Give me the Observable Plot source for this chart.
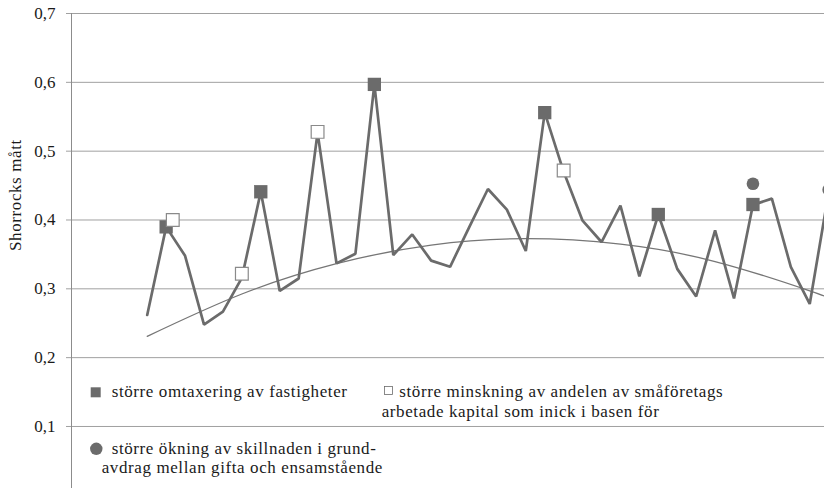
<!DOCTYPE html>
<html><head><meta charset="utf-8">
<script src="https://cdn.jsdelivr.net/npm/d3@7"></script>
<script src="https://cdn.jsdelivr.net/npm/@observablehq/plot@0.6"></script>
<style>
html,body{margin:0;padding:0;background:#fff;overflow:hidden}
#chart{position:relative;width:824px;height:488px}
#chart svg text{font-family:'Liberation Serif','Times New Roman',serif;font-size:17px;fill:#1a1a1a}
#chart svg .ylab text{letter-spacing:0.6px}
</style></head><body><div id="chart"></div>
<script>
// ---- data ----
const periodIndex = [0,1,2,3,4,5,6,7,8,9,10,11,12,13,14,15,16,17,18,19,20,21,22,23,24,25,26,27,28,29,30,31,32,33,34,35,36];
const shorrocks = [0.262,0.390,0.348,0.248,0.267,0.316,0.441,0.297,0.315,0.527,0.337,0.351,0.597,0.349,0.379,0.341,0.332,0.389,0.445,0.415,0.355,0.556,0.470,0.399,0.368,0.421,0.318,0.408,0.329,0.289,0.385,0.286,0.422,0.431,0.332,0.278,0.440];

const omtaxIndex = [1,6,12,21,27,32];
const omtaxValue = [0.390,0.441,0.597,0.556,0.408,0.4225];

const minskIndex = [1.35,5,9,22];
const minskValue = [0.400,0.322,0.528,0.472];

const grundIndex = [32,36];
const grundValue = [0.4526,0.444];

const trendIndex = [0,5,10,15,20,25,30,35,36];
const trendValue = [0.231,0.2925,0.3366,0.3635,0.3728,0.3649,0.3396,0.297,0.2864];

const yTicks = [0.1,0.2,0.3,0.4,0.5,0.6,0.7];
const yLabel = "Shorrocks mått";
const legendOmtax = "större omtaxering av fastigheter";
const legendMinsk = ["större minskning av andelen av småföretags", "arbetade kapital som inick i basen för"];
const legendGrund = ["större ökning av skillnaden i grund-", "avdrag mellan gifta och ensamstående"];

// ---- chart ----
const xDomain = [-4, 35.78];
const yDomain = [0.0099, 0.7];
const gray = "#6b6b6b";
const fmt = d => d.toFixed(1).replace(".", ",");
const font = "'Liberation Serif', 'Times New Roman', serif";

const plot = Plot.plot({
  width: 824, height: 488,
  marginLeft: 71, marginRight: 0, marginTop: 13, marginBottom: 0,
  x: {domain: xDomain, axis: null},
  y: {domain: yDomain, axis: null},
  style: {fontFamily: font, fontSize: "17px", color: "#1a1a1a", background: "#fff", overflow: "visible"},
  marks: [
    Plot.gridY(yTicks, {stroke: "#a0a0a0", strokeOpacity: 1, strokeWidth: 1}),
    Plot.axisY(yTicks, {tickSize: 5, tickPadding: 11, stroke: "#a0a0a0", tickFormat: fmt, fontSize: 17, fill: "#1a1a1a", label: null}),
    Plot.ruleX([xDomain[0]], {stroke: "#8c8c8c", strokeWidth: 1}),
    Plot.text([yLabel], {frameAnchor: "left", dx: -56, rotate: -90, text: d => d, fontSize: 17, fill: "#1a1a1a", className: "ylab"}),
    Plot.line(trendValue, {x: trendIndex, y: trendValue, curve: "natural", stroke: "#767676", strokeWidth: 1.3, clip: true}),
    Plot.line(shorrocks, {x: periodIndex, y: shorrocks, stroke: gray, strokeWidth: 2.7, strokeLinejoin: "miter", clip: true}),
    Plot.dot(omtaxValue, {x: omtaxIndex, y: omtaxValue, symbol: "square", r: 7.5, fill: gray, stroke: "none", clip: true}),
    Plot.dot(minskValue, {x: minskIndex, y: minskValue, symbol: "square", r: 7.2, fill: "#fff", stroke: "#8a8a8a", strokeWidth: 1.2, clip: true}),
    Plot.dot(grundValue, {x: grundIndex, y: grundValue, symbol: "circle", r: 6.3, fill: gray, stroke: "none", clip: true})
  ]
});
document.getElementById("chart").appendChild(plot);

// ---- legend inside the plot area ----
const svg = d3.select(plot);
const lg = svg.append("g")
  .style("font-family", font).style("font-size", "17px").style("fill", "#1a1a1a")
  .style("letter-spacing", "0.6px").style("text-anchor", "start");
lg.append("rect").attr("x", 90.7).attr("y", 387.3).attr("width", 10).attr("height", 10).attr("fill", gray);
lg.append("text").attr("x", 111.7).attr("y", 397).text(legendOmtax);
lg.append("rect").attr("x", 384.5).attr("y", 386.5).attr("width", 8).attr("height", 8).attr("fill", "#fff").attr("stroke", "#6b6b6b").attr("stroke-width", 0.8);
lg.append("text").attr("x", 399.3).attr("y", 397).text(legendMinsk[0]);
lg.append("text").attr("x", 381.7).attr("y", 416.5).text(legendMinsk[1]);
lg.append("circle").attr("cx", 96.3).attr("cy", 448.8).attr("r", 6.2).attr("fill", gray);
lg.append("text").attr("x", 111.7).attr("y", 454).text(legendGrund[0]);
lg.append("text").attr("x", 101.7).attr("y", 473).text(legendGrund[1]);
</script>
</body></html>
